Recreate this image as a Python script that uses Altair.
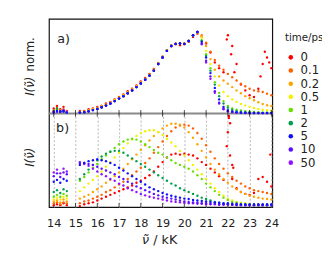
import altair as alt
import pandas as pd

# ---------------- data ----------------
times = ["0", "0.1", "0.2", "0.5", "1", "2", "5", "10", "50"]
colors = ["#ff0000", "#ff6000", "#ffa500", "#f2f200", "#66e000",
          "#00a050", "#1010ff", "#5a10ff", "#9010ff"]
draw_order = ["0", "0.1", "0.2", "0.5", "1", "2", "50", "10", "5"]

wn_left = [14.0, 14.15, 14.3, 14.45, 14.6]
wn_main = [15.2, 15.4, 15.6, 15.8, 16.0, 16.2, 16.4, 16.6, 16.8, 17.0,
           17.2, 17.4, 17.6, 17.8, 18.0, 18.2, 18.4, 18.6, 18.8, 19.0,
           19.2, 19.4, 19.6, 19.8, 20.0, 20.2, 20.4, 20.6, 20.8, 21.0,
           21.2, 21.4, 21.6, 21.8, 22.0, 22.2, 22.4, 22.6, 22.8, 23.0,
           23.2, 23.4, 23.6, 23.8, 24.0]

# panel a) normalised intensity
norm_left = {
    "0":   [0.06, 0.09, 0.05, 0.08, 0.03],
    "0.1": [0.04, 0.07, 0.03, 0.05, 0.02],
    "0.2": [0.03, 0.05, 0.04, 0.03, 0.02],
    "0.5": [0.02, 0.04, 0.02, 0.03, 0.01],
    "1":   [0.02, 0.05, 0.03, 0.02, 0.01],
    "2":   [0.03, 0.06, 0.02, 0.03, 0.01],
    "5":   [0.01, 0.03, 0.02, 0.03, 0.01],
    "10":  [0.02, 0.02, 0.03, 0.02, 0.01],
    "50":  [0.02, 0.03, 0.02, 0.04, 0.02],
}
norm_main = {
    "0":   [0.03, 0.03, 0.05, 0.06, 0.08, 0.09, 0.12, 0.14, 0.17, 0.2,
            0.23, 0.27, 0.3, 0.34, 0.39, 0.43, 0.48, 0.54, 0.61, 0.69,
            0.77, 0.82, 0.84, 0.83, 0.84, 0.87, 0.93, 0.97, 0.93, 0.85,
            0.74, 0.62, 0.55, 0.5, 0.95, 0.82, 0.6, 0.35, 0.28, 0.22,
            0.2, 0.3, 0.6, 0.68, 0.55],
    "0.1": [0.02, 0.025, 0.04, 0.055, 0.07, 0.09, 0.11, 0.135, 0.165, 0.195,
            0.225, 0.26, 0.295, 0.335, 0.38, 0.425, 0.475, 0.535, 0.61, 0.69,
            0.77, 0.825, 0.845, 0.85, 0.85, 0.88, 0.95, 0.98, 0.95, 0.86,
            0.75, 0.65, 0.58, 0.53, 0.48, 0.44, 0.4, 0.36, 0.33, 0.3,
            0.28, 0.27, 0.26, 0.24, 0.22],
    "0.2": [0.015, 0.02, 0.035, 0.05, 0.065, 0.085, 0.105, 0.13, 0.16, 0.19,
            0.22, 0.255, 0.29, 0.33, 0.375, 0.42, 0.47, 0.53, 0.605, 0.685,
            0.765, 0.825, 0.85, 0.855, 0.85, 0.88, 0.95, 0.98, 0.94, 0.82,
            0.66, 0.53, 0.45, 0.4, 0.36, 0.32, 0.28, 0.245, 0.21, 0.185,
            0.16, 0.135, 0.115, 0.1, 0.09],
    "0.5": [0.012, 0.018, 0.03, 0.045, 0.06, 0.08, 0.1, 0.125, 0.155, 0.185,
            0.215, 0.25, 0.285, 0.325, 0.37, 0.415, 0.465, 0.525, 0.6, 0.68,
            0.76, 0.82, 0.845, 0.85, 0.845, 0.88, 0.95, 0.985, 0.92, 0.76,
            0.6, 0.45, 0.34, 0.26, 0.21, 0.17, 0.14, 0.115, 0.095, 0.08,
            0.065, 0.055, 0.045, 0.04, 0.035],
    "1":   [0.01, 0.015, 0.025, 0.04, 0.055, 0.075, 0.095, 0.12, 0.15, 0.18,
            0.21, 0.245, 0.28, 0.32, 0.365, 0.41, 0.46, 0.52, 0.6, 0.68,
            0.76, 0.82, 0.845, 0.85, 0.845, 0.88, 0.95, 0.99, 0.89, 0.72,
            0.55, 0.38, 0.25, 0.15, 0.09, 0.06, 0.045, 0.035, 0.028, 0.022,
            0.018, 0.015, 0.013, 0.011, 0.01],
    "2":   [0.01, 0.015, 0.025, 0.04, 0.055, 0.075, 0.095, 0.12, 0.15, 0.18,
            0.21, 0.245, 0.28, 0.32, 0.365, 0.41, 0.46, 0.52, 0.6, 0.68,
            0.76, 0.82, 0.845, 0.85, 0.845, 0.88, 0.95, 0.99, 0.88, 0.7,
            0.52, 0.35, 0.21, 0.12, 0.07, 0.045, 0.03, 0.022, 0.017, 0.013,
            0.01, 0.008, 0.007, 0.006, 0.006],
    "5":   [0.01, 0.015, 0.025, 0.04, 0.055, 0.075, 0.095, 0.12, 0.15, 0.18,
            0.21, 0.245, 0.28, 0.32, 0.365, 0.41, 0.46, 0.52, 0.6, 0.68,
            0.76, 0.82, 0.845, 0.85, 0.845, 0.88, 0.95, 0.99, 0.87, 0.68,
            0.49, 0.31, 0.17, 0.08, 0.04, 0.025, 0.015, 0.01, 0.007, 0.005,
            0.005, 0.004, 0.004, 0.004, 0.004],
    "10":  [0.01, 0.015, 0.025, 0.04, 0.055, 0.075, 0.095, 0.12, 0.15, 0.18,
            0.21, 0.245, 0.28, 0.32, 0.365, 0.41, 0.46, 0.52, 0.6, 0.68,
            0.76, 0.82, 0.845, 0.85, 0.845, 0.88, 0.95, 0.99, 0.85, 0.64,
            0.45, 0.27, 0.13, 0.06, 0.03, 0.018, 0.012, 0.008, 0.006, 0.005,
            0.004, 0.004, 0.004, 0.004, 0.004],
    "50":  [0.01, 0.015, 0.025, 0.04, 0.055, 0.075, 0.095, 0.12, 0.15, 0.18,
            0.21, 0.245, 0.28, 0.32, 0.365, 0.41, 0.46, 0.52, 0.6, 0.68,
            0.76, 0.82, 0.845, 0.85, 0.845, 0.88, 0.95, 0.99, 0.84, 0.62,
            0.42, 0.25, 0.12, 0.05, 0.025, 0.015, 0.01, 0.007, 0.005, 0.004,
            0.004, 0.004, 0.004, 0.004, 0.004],
}
red_extra_a_wn = [21.95, 22.05, 22.1, 22.15, 22.3, 23.5, 23.7, 23.9]
red_extra_a_val = [0.9, -0.03, -0.12, 0.72, 0.5, 0.45, 0.75, 0.62]

# panel b) intensity (arbitrary units)
abs_left = {
    "0":   [0.02, 0.03, 0.02, 0.04, 0.02],
    "0.1": [0.04, 0.05, 0.03, 0.05, 0.04],
    "0.2": [0.06, 0.07, 0.05, 0.08, 0.06],
    "0.5": [0.08, 0.1, 0.08, 0.11, 0.09],
    "1":   [0.11, 0.13, 0.11, 0.14, 0.12],
    "2":   [0.16, 0.18, 0.15, 0.19, 0.17],
    "5":   [0.27, 0.29, 0.26, 0.3, 0.28],
    "10":  [0.33, 0.36, 0.32, 0.37, 0.35],
    "50":  [0.37, 0.4, 0.36, 0.41, 0.38],
}
abs_main = {
    "0":   [0.01, 0.03, 0.04, 0.05, 0.07, 0.09, 0.11, 0.13, 0.15, 0.17,
            0.19, 0.21, 0.23, 0.26, 0.28, 0.31, 0.34, 0.38, 0.43, 0.48,
            0.53, 0.56, 0.57, 0.56, 0.57, 0.56, 0.55, 0.52, 0.48, 0.45,
            0.41, 0.37, 0.33, 0.29, 0.8, 0.3, 0.2, 0.16, 0.14, 0.13,
            0.15, 0.3, 0.32, 0.27, 0.22],
    "0.1": [0.04, 0.06, 0.07, 0.09, 0.11, 0.13, 0.16, 0.18, 0.21, 0.24,
            0.27, 0.3, 0.34, 0.38, 0.42, 0.47, 0.52, 0.58, 0.64, 0.7,
            0.76, 0.81, 0.85, 0.87, 0.88, 0.87, 0.84, 0.79, 0.73, 0.66,
            0.59, 0.52, 0.46, 0.41, 0.36, 0.32, 0.28, 0.25, 0.22, 0.2,
            0.18, 0.17, 0.16, 0.15, 0.14],
    "0.2": [0.09, 0.11, 0.13, 0.16, 0.19, 0.22, 0.26, 0.29, 0.33, 0.37,
            0.41, 0.46, 0.51, 0.56, 0.61, 0.66, 0.71, 0.76, 0.8, 0.84,
            0.87, 0.89, 0.89, 0.88, 0.85, 0.8, 0.74, 0.67, 0.6, 0.53,
            0.46, 0.4, 0.35, 0.3, 0.26, 0.22, 0.19, 0.16, 0.14, 0.12,
            0.11, 0.1, 0.09, 0.085, 0.08],
    "0.5": [0.17, 0.21, 0.25, 0.29, 0.33, 0.38, 0.43, 0.48, 0.53, 0.58,
            0.63, 0.68, 0.72, 0.76, 0.79, 0.81, 0.82, 0.82, 0.8, 0.77,
            0.73, 0.69, 0.65, 0.6, 0.55, 0.5, 0.45, 0.4, 0.35, 0.3,
            0.25, 0.2, 0.16, 0.12, 0.09, 0.07, 0.055, 0.045, 0.04, 0.035,
            0.03, 0.03, 0.03, 0.03, 0.03],
    "1":   [0.28, 0.32, 0.37, 0.42, 0.46, 0.51, 0.55, 0.59, 0.63, 0.67,
            0.7, 0.72, 0.73, 0.72, 0.7, 0.67, 0.64, 0.61, 0.58, 0.56,
            0.53, 0.5, 0.47, 0.45, 0.43, 0.41, 0.38, 0.34, 0.3, 0.25,
            0.21, 0.17, 0.13, 0.1, 0.075, 0.055, 0.045, 0.035, 0.03, 0.025,
            0.02, 0.02, 0.02, 0.02, 0.02],
    "2":   [0.3, 0.35, 0.4, 0.45, 0.5, 0.54, 0.57, 0.59, 0.6, 0.6,
            0.58, 0.55, 0.52, 0.49, 0.46, 0.43, 0.4, 0.37, 0.34, 0.31,
            0.28, 0.25, 0.23, 0.2, 0.18, 0.16, 0.14, 0.12, 0.1, 0.085,
            0.07, 0.055, 0.045, 0.035, 0.03, 0.025, 0.02, 0.02, 0.02, 0.02,
            0.02, 0.02, 0.02, 0.02, 0.02],
    "5":   [0.45, 0.47, 0.49, 0.5, 0.51, 0.5, 0.49, 0.47, 0.45, 0.42,
            0.39, 0.36, 0.33, 0.3, 0.27, 0.24, 0.21, 0.19, 0.17, 0.15,
            0.135, 0.12, 0.11, 0.1, 0.09, 0.085, 0.075, 0.07, 0.065, 0.06,
            0.055, 0.05, 0.045, 0.04, 0.04, 0.035, 0.035, 0.03, 0.03, 0.03,
            0.03, 0.03, 0.03, 0.03, 0.03],
    "10":  [0.47, 0.47, 0.46, 0.45, 0.43, 0.41, 0.39, 0.37, 0.35, 0.32,
            0.3, 0.27, 0.25, 0.22, 0.2, 0.18, 0.16, 0.14, 0.125, 0.11,
            0.1, 0.09, 0.08, 0.07, 0.06, 0.055, 0.05, 0.045, 0.04, 0.04,
            0.035, 0.035, 0.03, 0.03, 0.03, 0.025, 0.025, 0.025, 0.02, 0.02,
            0.02, 0.02, 0.02, 0.02, 0.02],
    "50":  [0.48, 0.46, 0.44, 0.41, 0.38, 0.35, 0.33, 0.3, 0.28, 0.25,
            0.23, 0.2, 0.18, 0.16, 0.14, 0.125, 0.11, 0.1, 0.09, 0.08,
            0.07, 0.06, 0.055, 0.05, 0.045, 0.04, 0.04, 0.035, 0.035, 0.03,
            0.03, 0.03, 0.025, 0.025, 0.025, 0.025, 0.02, 0.02, 0.02, 0.02,
            0.02, 0.02, 0.02, 0.02, 0.02],
}
red_extra_b_wn = [21.95, 22.05, 22.1, 22.2, 22.25, 23.95]
red_extra_b_val = [0.65, 0.95, 0.55, 0.45, 0.42, 0.56]

tick_values = [14, 15, 16, 17, 18, 19, 20, 21, 22, 23, 24]

# ---------------- tables ----------------
def build(left, main, extra_wn, extra_val):
    rows = []
    for t in draw_order:
        for w, v in zip(wn_left, left[t]):
            rows.append({"wn": w, "val": v, "time": t})
        for w, v in zip(wn_main, main[t]):
            rows.append({"wn": w, "val": v, "time": t})
        if t == "0":
            for w, v in zip(extra_wn, extra_val):
                rows.append({"wn": w, "val": v, "time": t})
    return pd.DataFrame(rows)

df_a = build(norm_left, norm_main, red_extra_a_wn, red_extra_a_val)
df_b = build(abs_left, abs_main, red_extra_b_wn, red_extra_b_val)
df_ticks = pd.DataFrame({"wn": tick_values})
df_zero = pd.DataFrame({"val": [0.0]})
dummy = pd.DataFrame({"k": [0]})

FONT = "DejaVu Sans"
W, H = 229, 193
H_A = 97

x_scale = alt.Scale(domain=[13.78, 24.04], nice=False, zero=False)
x_axis = alt.Axis(values=tick_values, format="d", grid=True, gridDash=[2, 2],
                  gridColor="#b4b4b4", gridWidth=1, ticks=False, tickSize=0,
                  domain=False, labelPadding=11, labelFontSize=11.5,
                  labelOverlap=False, labelFlush=False, labelFont=FONT,
                  labelColor="#222", title=None)
x_enc = alt.X("wn:Q", scale=x_scale, axis=x_axis)

color_enc = alt.Color(
    "time:N",
    scale=alt.Scale(domain=times, range=colors),
    legend=alt.Legend(title="time/ps", orient="none", legendX=242, legendY=15,
                      titleFont=FONT, titleFontSize=10.5, titleFontWeight="normal",
                      titleColor="#222", titlePadding=8, labelFont=FONT,
                      labelFontSize=12, labelColor="#222", symbolType="circle",
                      symbolSize=22, symbolStrokeWidth=0, labelOffset=4,
                      rowPadding=1.5, padding=0),
)

y_a = alt.Y("val:Q", scale=alt.Scale(domain=[0, 1.15], range=[H_A, 0], nice=False, zero=False), axis=None)
y_b = alt.Y("val:Q", scale=alt.Scale(domain=[0, 1.0], range=[H, H_A], nice=False, zero=False), axis=None)

zero_a = alt.Chart(df_zero).mark_rule(color="#8a8a8a", strokeWidth=2).encode(y=y_a)
pts_a = alt.Chart(df_a).mark_circle(size=6, opacity=1).encode(x=x_enc, y=y_a, color=color_enc)
pts_b = alt.Chart(df_b).mark_circle(size=6, opacity=1).encode(x=x_enc, y=y_b, color=color_enc)

ticks_mid = alt.Chart(df_ticks).mark_tick(color="#000", size=7, thickness=1).encode(
    x=alt.X("wn:Q", scale=x_scale, axis=x_axis), y=alt.value(H_A)
)
ticks_bot = alt.Chart(df_ticks).mark_tick(color="#000", size=4, thickness=1).encode(
    x=alt.X("wn:Q", scale=x_scale, axis=x_axis), y=alt.value(H - 2)
)

def label(text, x, y, size=13, angle=0, align="center", style="normal"):
    return alt.Chart(dummy).mark_text(
        text=text, font=FONT, fontSize=size, angle=angle, align=align,
        baseline="middle", fontStyle=style, color="#222"
    ).encode(x=alt.value(x), y=alt.value(y))

texts = [
    label("a)", 15, 21),
    label("b)", 14, 112),
    label("I(ν̃)", -19, 79, size=12, angle=270, align="left", style="italic"),
    label("norm.", -19, 54, size=12, angle=270, align="left"),
    label("I(ν̃)", -19, 142, size=12, angle=270, align="center", style="italic"),
    label("ν̃", 99, 227, size=13, style="italic"),
    label("/ kK", 107, 227, size=13, align="left"),
]

panel_a = alt.layer(zero_a, pts_a, ticks_mid, ticks_bot, *texts)
panel_b = alt.layer(pts_b)

chart = alt.layer(panel_a, panel_b).resolve_scale(
    y="independent"
).properties(
    width=W, height=H,
    padding={"left": 42, "top": 8, "right": 51, "bottom": 42},
    autosize=alt.AutoSizeParams(type="none"),
).configure(font=FONT).configure_view(stroke="#111", strokeWidth=1.2)

chart.save("out.html", embed_options={"renderer": "svg", "actions": False})
